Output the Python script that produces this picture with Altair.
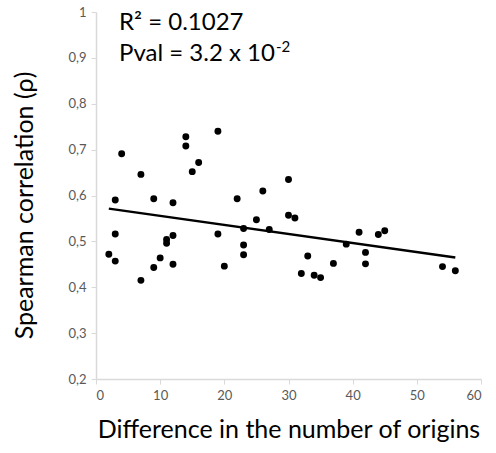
import altair as alt
import pandas as pd

# Difference in the number of origins (x) and Spearman correlation (y)
diff_origins = [4, 7, 14, 14, 19, 16, 15, 3, 9, 12, 3, 12, 11, 11, 19, 2, 3, 10, 9, 12, 7, 20,
                30, 26, 22, 25, 30, 31, 23, 27, 23, 23, 33, 32, 34, 35, 37,
                39, 41, 44, 45, 42, 42, 54, 56]
spearman = [0.691, 0.646, 0.728, 0.708, 0.740, 0.672, 0.652, 0.590, 0.593, 0.584, 0.516, 0.513,
            0.504, 0.496, 0.516, 0.472, 0.457, 0.464, 0.443, 0.450, 0.415, 0.446,
            0.635, 0.610, 0.593, 0.547, 0.557, 0.551, 0.528, 0.526, 0.492, 0.471, 0.468, 0.430,
            0.426, 0.421, 0.452,
            0.494, 0.520, 0.515, 0.523, 0.476, 0.451, 0.445, 0.436]

x_ticks = [0, 10, 20, 30, 40, 50, 60]
y_ticks = [0.2, 0.3, 0.4, 0.5, 0.6, 0.7, 0.8, 0.9, 1.0]

r2_text = "R² = 0.1027"
pval_text = "Pval = 3.2 x 10"
pval_exp = "-2"

df = pd.DataFrame({"diff": diff_origins, "rho": spearman})

FONT = "Lato"
LABEL_COLOR = "#595959"
AXIS_COLOR = "#d9d9d9"

x_enc = alt.X("diff:Q",
              scale=alt.Scale(domain=[0, 60], nice=False, zero=False),
              axis=alt.Axis(values=x_ticks, title="Difference in the number of origins",
                            titleFont=FONT, titleFontSize=25, titleFontWeight="normal",
                            titleColor="black", titlePadding=15,
                            labelFont=FONT, labelFontSize=13, labelColor=LABEL_COLOR,
                            labelPadding=5, tickSize=5, tickColor=AXIS_COLOR,
                            domainColor=AXIS_COLOR, domainWidth=1.5, grid=False))
y_enc = alt.Y("rho:Q",
              scale=alt.Scale(domain=[0.2, 1.0], nice=False, zero=False),
              axis=alt.Axis(values=y_ticks, title="Spearman correlation (ρ)",
                            labelExpr="replace(format(datum.value, '.1~f'), '.', ',')",
                            titleFont=FONT, titleFontSize=25, titleFontWeight="normal",
                            titleColor="black", titlePadding=30, titleY=193,
                            labelFont=FONT, labelFontSize=13, labelColor=LABEL_COLOR,
                            labelPadding=5, tickSize=5, tickColor=AXIS_COLOR,
                            domainColor=AXIS_COLOR, domainWidth=1.5, grid=False))

base = alt.Chart(df)

points = base.mark_circle(color="black", opacity=1, size=48).encode(x=x_enc, y=y_enc)

fit = base.transform_regression("diff", "rho", extent=[2, 56]).mark_line(
    color="black", strokeWidth=2.5).encode(x="diff:Q", y="rho:Q")

txt_df = pd.DataFrame({"r2": [r2_text], "pv": [pval_text], "ex": [pval_exp]})
t1 = alt.Chart(txt_df).mark_text(font=FONT, fontSize=24, align="left", baseline="alphabetic",
                                 color="black").encode(
    text="r2:N", x=alt.value(23), y=alt.value(18))
t2 = alt.Chart(txt_df).mark_text(font=FONT, fontSize=24, align="left", baseline="alphabetic",
                                 color="black").encode(
    text="pv:N", x=alt.value(23), y=alt.value(49))
t3 = alt.Chart(txt_df).mark_text(font=FONT, fontSize=15, align="left", baseline="alphabetic",
                                 color="black").encode(
    text="ex:N", x=alt.value(180), y=alt.value(40))

chart = alt.layer(points, fit, t1, t2, t3).properties(
    width=385, height=367,
    autosize=alt.AutoSizeParams(type="none"),
    padding={"left": 96, "top": 12, "right": 15, "bottom": 74},
).configure_view(stroke=None)

chart.save("out.html", embed_options={"renderer": "svg", "actions": False})
